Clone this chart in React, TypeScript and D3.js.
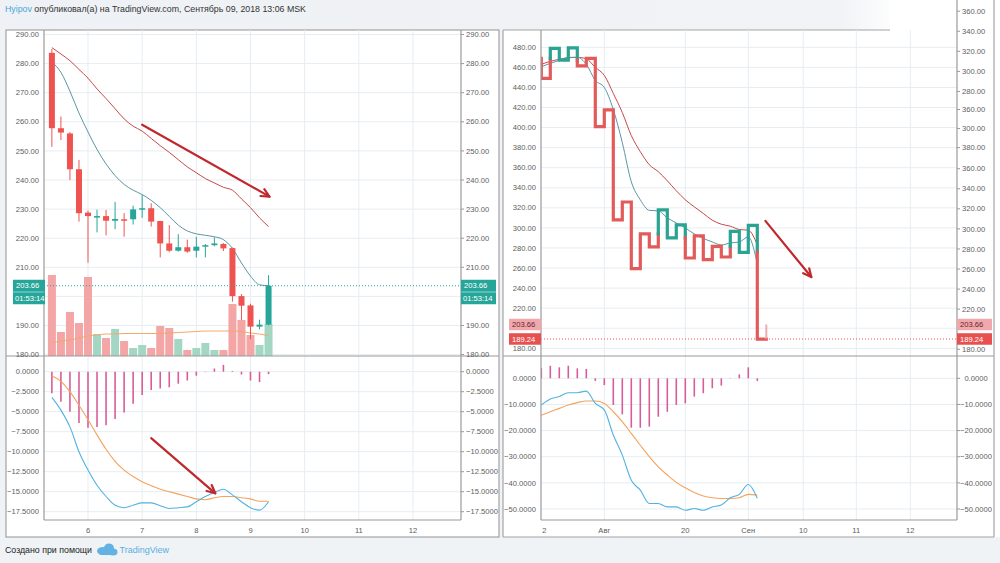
import * as d3 from 'd3';

// ---------- left chart: 4h candles, 5–9 Sept ----------
const candleStartDay = 5 + 8 / 24; // Sept 5, 08:00
const candleStep = 4 / 24;
const candleOpen = [283.7, 257.8, 256.0, 243.7, 228.8, 227.4, 227.6, 226.0, 226.5, 226.5, 229.8, 230.3, 225.9, 218.2, 215.7, 216.9, 215.7, 217.1, 217.6, 218.0, 216.6, 200.1, 196.9, 189.6, 190.3];
const candleClose = [257.8, 256.3, 243.7, 228.6, 227.6, 227.6, 226.0, 226.6, 226.2, 229.9, 230.3, 225.7, 218.2, 215.7, 216.9, 215.4, 217.1, 217.6, 218.2, 216.5, 200.1, 196.8, 189.6, 190.3, 203.66];
const candleHigh = [285.0, 261.8, 256.5, 246.9, 229.5, 229.8, 229.7, 232.5, 228.6, 231.2, 234.8, 232.0, 226.0, 224.5, 221.4, 219.5, 220.5, 218.0, 220.3, 218.3, 216.8, 200.8, 197.5, 192.0, 207.3];
const candleLow = [251.4, 253.7, 240.0, 225.7, 211.6, 222.0, 221.0, 223.1, 220.5, 224.7, 227.0, 224.0, 213.4, 215.2, 215.4, 215.0, 213.4, 213.4, 217.2, 215.6, 198.2, 191.9, 185.3, 188.7, 190.0];
const volume = [81, 24, 44, 33, 79, 22, 18, 27, 15, 8, 11, 8, 30, 28, 17, 6, 8, 13, 6, 6, 52, 36, 21, 11, 32];
const volumeMa = [13, 15, 16, 18, 20, 21, 22, 22, 22.5, 22.5, 22.5, 22.5, 22.5, 23, 23.5, 24, 24.5, 25, 25, 25, 25, 24.5, 23, 22, 20.5];
const maSlow = [285.5, 283.3, 281, 278, 275, 271.3, 268, 264.5, 261, 258.5, 256.8, 254.3, 251.8, 249.5, 247, 244.5, 242.5, 240.5, 239, 237.5, 236.5, 233.5, 230.5, 227, 224];
const maFast = [280.5, 277, 270.5, 263, 256.5, 250.5, 245.5, 241.5, 238.5, 236.5, 235, 233, 230.5, 227.5, 224.5, 222.5, 221.5, 221, 220.5, 219.5, 216.5, 211.5, 207, 204, 203.66];
const macdHist = [-2.7, -3.75, -5.0, -6.4, -7.0, -6.9, -6.7, -5.9, -5.1, -4.0, -2.9, -2.3, -2.1, -1.95, -1.5, -1.1, -0.5, -0.05, 0.4, 0.85, 0.1, -0.35, -1.1, -1.3, -0.3];
const macdLine = [-3.2, -4.8, -6.9, -10.0, -12.3, -14.2, -15.6, -16.7, -17.0, -16.7, -16.4, -16.4, -16.75, -17.1, -17.0, -16.9, -16.25, -15.6, -15.1, -14.7, -15.4, -16.25, -17.0, -17.3, -16.25];
const macdSignal = [-0.5, -1.2, -2.5, -4.2, -6.0, -7.9, -9.7, -11.2, -12.3, -13.1, -13.75, -14.25, -14.7, -15.0, -15.3, -15.6, -15.9, -16.0, -15.75, -15.6, -15.6, -15.75, -15.9, -16.2, -16.2];
const lastPrice = 203.66;
const countdown = '01:53:14';
const dayTicks = [6, 7, 8, 9, 10, 11, 12];
const priceTicksL = [180, 190, 200, 210, 220, 230, 240, 250, 260, 270, 280, 290];
const priceLabelsL = [180, 190, 210, 220, 230, 240, 250, 260, 270, 280, 290];
const macdTicksL = [0, -2.5, -5, -7.5, -10, -12.5, -15, -17.5];
// hand-drawn arrows, in (candle index, value)
const arrowPriceL = [[10, 259], [24.1, 234.3]];
const arrowMacdL = [[11, -8.3], [18.1, -15.2]];

// ---------- right chart: kagi ----------
const kagiTurns = [469, 449, 479, 467.3, 479.5, 461.4, 469, 401, 417.6, 308, 325.8, 259.4, 294, 281, 318, 290, 303, 270, 292, 268.4, 281.6, 271, 296.5, 275.6, 302.5, 189.24];
const kagiLive = 203.66;
const kagiMaFast = [460.7, 464, 467, 470, 470, 463, 447, 440, 418, 385, 346, 328, 317.5, 317, 310, 305, 300, 294, 289.5, 286, 283, 285, 286, 291, 264];
const kagiMaSlow = [463, 466, 468, 469.5, 470, 468.5, 460, 452, 434, 415, 392, 376, 363, 356, 347, 337, 328, 321, 314.4, 307.7, 303.7, 301.7, 298.4, 297.7, 283];
const rMacdHist = [3.8, 4.8, 4.2, 4.8, 3.8, 3.6, -1.0, -2.6, -10.2, -13.8, -18.9, -18.9, -18.5, -14.7, -12.8, -10.2, -9.6, -7.0, -5.7, -3.8, -2.8, 0.1, 1.5, 4.2, -1.0];
const rMacdLine = [-10.2, -7.9, -7.0, -5.5, -5.5, -4.9, -9.6, -12.1, -21.7, -29.4, -39.0, -42.8, -47.9, -47.9, -49.2, -49.2, -50.5, -49.8, -50.5, -49.2, -48.5, -45.7, -44.4, -40.6, -45.9];
const rMacdSignal = [-14.1, -12.8, -11.5, -10.2, -9.3, -8.7, -8.7, -9.6, -12.8, -16.6, -21.1, -25.6, -30.0, -33.9, -37.0, -39.8, -41.9, -43.7, -45.0, -45.7, -46.0, -46.0, -45.7, -44.4, -44.7];
const rDateTickPos = [0.33, 7, 16, 23, 29.1, 35, 41];
const rDateTickLabels = ['2', 'Авг', '20', 'Сен', '10', '11', '12'];
const priceTicksR = [180, 200, 220, 240, 260, 280, 300, 320, 340, 360, 380, 400, 420, 440, 460, 480];
const priceLabelsR = [180, 220, 240, 260, 280, 300, 320, 340, 360, 380, 400, 420, 440, 460, 480];
// pasted right-hand scale of the screenshot (labels do not follow the left one)
const outerTickPos = [516, 496, 476, 456, 436, 418, 399, 380, 359, 339, 319, 299, 279, 259, 239, 219, 179];
const outerTickLabels = ['360.00', '340.00', '320.00', '300.00', '280.00', '360.00', '300.00', '380.00', '360.00', '340.00', '320.00', '300.00', '280.00', '260.00', '240.00', '220.00', '180.00'];
const macdTicksR = [0, -10, -20, -30, -40, -50];
const arrowR = [[24.9, 307], [30, 251]];

const UP = '#26a69a';
const DOWN = '#ef5350';
const GRID = '#e6edf2';
const AXIS = '#9a9a9a';
const TXT = '#5d5d5d';
const FONT = 'Liberation Sans, Arial, sans-serif';

function Arrow({ x0, y0, x1, y1 }: { x0: number; y0: number; x1: number; y1: number }) {
  const a = Math.atan2(y1 - y0, x1 - x0);
  const h = 9;
  const p1 = [x1 - h * Math.cos(a - 0.45), y1 - h * Math.sin(a - 0.45)];
  const p2 = [x1 - h * Math.cos(a + 0.45), y1 - h * Math.sin(a + 0.45)];
  return (
    <g stroke="#c0282d" strokeWidth={2.2} fill="none" strokeLinecap="round" strokeLinejoin="round">
      <line x1={x0} y1={y0} x2={x1} y2={y1} />
      <polyline points={`${p1[0]},${p1[1]} ${x1},${y1} ${p2[0]},${p2[1]}`} />
    </g>
  );
}

function kagiRuns(turns: number[]) {
  const runs: { color: string; pts: [number, number][] }[] = [];
  let color = turns[1] < turns[0] ? DOWN : UP;
  let hi = turns[0];
  let lo = -Infinity;
  let cur = { color, pts: [[0, turns[0]]] as [number, number][] };
  const push = (c: string, x: number, v: number) => {
    if (c !== cur.color) {
      const last = cur.pts[cur.pts.length - 1];
      runs.push(cur);
      cur = { color: c, pts: [last] };
    }
    cur.pts.push([x, v]);
  };
  for (let i = 0; i < turns.length - 1; i++) {
    const a = turns[i];
    const b = turns[i + 1];
    if (b > a) {
      lo = a;
      if (color === DOWN && b > hi) {
        push(DOWN, i, hi);
        color = UP;
      }
      push(color, i, b);
      hi = b;
    } else {
      hi = a;
      if (color === UP && b < lo) {
        push(UP, i, lo);
        color = DOWN;
      }
      push(color, i, b);
      lo = b;
    }
    push(color, i + 1, b);
  }
  runs.push(cur);
  return runs;
}

export default function App() {
  // layout
  const L = { x0: 6, x1: 499, plotL: 44, plotR: 461 };
  const R = { x0: 503, x1: 994, plotL: 541, plotR: 957 };
  const top = 30;
  const sep = 356;
  const plotB = 520;
  const bottom = 537;

  // scales
  const xL = d3.scaleLinear().domain([6, 12]).range([88, 413]);
  const cx = (i: number) => xL(candleStartDay + i * candleStep);
  const yP = d3.scaleLinear().domain([180, 290]).range([354.6, 34.5]);
  const yV = d3.scaleLinear().domain([0, 100]).range([sep, sep - 100]);
  const yM = d3.scaleLinear().domain([0, -17.5]).range([371.7, 511.7]);

  const xR = d3.scaleLinear().domain([0, 24]).range([541.3, 757.3]);
  const yPR = d3.scaleLinear().domain([180, 480]).range([348.3, 47.3]);
  const yMR = d3.scaleLinear().domain([0, -50]).range([378.3, 509]);

  const idx = d3.range(candleOpen.length);
  const lineL = (vals: number[], y: d3.ScaleLinear<number, number>) =>
    d3.line<number>().x((_, i) => cx(i)).y((v) => y(v)).curve(d3.curveMonotoneX)(vals) || '';
  const lineR = (vals: number[], y: d3.ScaleLinear<number, number>) =>
    d3.line<number>().x((_, i) => xR(i)).y((v) => y(v)).curve(d3.curveMonotoneX)(vals) || '';
  const kagiLine = d3.line<[number, number]>().x((p) => xR(p[0])).y((p) => yPR(p[1]));
  const runs = kagiRuns(kagiTurns);
  const lastCol = kagiTurns.length - 1;

  const fmt2 = d3.format('.2f');
  const fmt4 = d3.format('.4f');

  return (
    <div style={{ position: 'absolute', left: 0, top: 0 }}>
      <svg width={1000} height={563} style={{ display: 'block', fontFamily: FONT }}>
        <defs>
          <linearGradient id="hdr" x1="0" x2="1" y1="0" y2="0">
            <stop offset="0%" stopColor="#eef1f5" />
            <stop offset="84%" stopColor="#f1f3f6" />
            <stop offset="90%" stopColor="#ffffff" />
          </linearGradient>
          <clipPath id="clipL">
            <rect x={L.plotL} y={top} width={L.plotR - L.plotL} height={plotB - top} />
          </clipPath>
          <clipPath id="clipR">
            <rect x={R.plotL} y={top} width={R.plotR - R.plotL} height={plotB - top} />
          </clipPath>
        </defs>

        {/* page background */}
        <rect x={0} y={0} width={1000} height={563} fill="#f0f3f6" />
        <rect x={0} y={0} width={1000} height={top} fill="url(#hdr)" />
        <rect x={890} y={0} width={110} height={bottom} fill="#ffffff" />

        {/* header */}
        <text x={5} y={12} fontSize={8.8} fill="#333">
          <tspan fill="#49a6d6">Hyipov</tspan> опубликовал(а) на TradingView.com, Сентябрь 09, 2018 13:06 MSK
        </text>

        {/* panels */}
        <rect x={L.x0} y={top} width={L.x1 - L.x0} height={bottom - top} fill="#fff" stroke="#a3a3a3" strokeWidth={1.2} />
        <rect x={R.x0} y={top} width={R.x1 - R.x0} height={bottom - top} fill="#fff" />
        <line x1={R.x0} x2={R.x0} y1={top} y2={bottom} stroke="#a3a3a3" strokeWidth={1.2} />
        <line x1={R.x0} x2={R.x1} y1={bottom} y2={bottom} stroke="#a3a3a3" strokeWidth={1.2} />
        <line x1={R.x0} x2={890} y1={top} y2={top} stroke="#a3a3a3" strokeWidth={1.2} />
        <line x1={R.x1} x2={R.x1} y1={0} y2={bottom} stroke="#a3a3a3" strokeWidth={1.2} />

        {/* ===== left grid ===== */}
        <g stroke={GRID} strokeWidth={1}>
          {priceTicksL.map((t) => (
            <line key={'pl' + t} x1={L.plotL} x2={L.plotR} y1={yP(t)} y2={yP(t)} />
          ))}
          {macdTicksL.map((t) => (
            <line key={'ml' + t} x1={L.plotL} x2={L.plotR} y1={yM(t)} y2={yM(t)} />
          ))}
          {dayTicks.map((d) => (
            <line key={'dl' + d} x1={xL(d)} x2={xL(d)} y1={top} y2={plotB} />
          ))}
        </g>

        {/* ===== right grid ===== */}
        <g stroke={GRID} strokeWidth={1}>
          {priceTicksR.map((t) => (
            <line key={'pr' + t} x1={R.plotL} x2={R.plotR} y1={yPR(t)} y2={yPR(t)} />
          ))}
          {macdTicksR.map((t) => (
            <line key={'mr' + t} x1={R.plotL} x2={R.plotR} y1={yMR(t)} y2={yMR(t)} />
          ))}
          {rDateTickPos.slice(1).map((d) => (
            <line key={'dr' + d} x1={xR(d)} x2={xR(d)} y1={top} y2={plotB} />
          ))}
        </g>

        {/* ===== left price pane ===== */}
        <g clipPath="url(#clipL)">
          {/* volume */}
          {idx.map((i) => (
            <rect
              key={'v' + i}
              x={cx(i) - 4}
              y={yV(volume[i])}
              width={8}
              height={yV(0) - yV(volume[i])}
              fill={candleClose[i] >= candleOpen[i] ? '#a3d7c4' : '#f4a5a5'}
            />
          ))}
          <path d={lineL(volumeMa, yV)} fill="none" stroke="#f2a86a" strokeWidth={1} />

          {/* moving averages */}
          <path d={lineL(maSlow, yP)} fill="none" stroke="#c9484a" strokeWidth={1} />
          <path d={lineL(maFast, yP)} fill="none" stroke="#5b95a4" strokeWidth={1} />

          {/* candles */}
          {idx.map((i) => {
            const up = candleClose[i] >= candleOpen[i];
            const c = up ? UP : DOWN;
            const yt = yP(Math.max(candleOpen[i], candleClose[i]));
            const yb = yP(Math.min(candleOpen[i], candleClose[i]));
            return (
              <g key={'c' + i}>
                <line x1={cx(i)} x2={cx(i)} y1={yP(candleHigh[i])} y2={yP(candleLow[i])} stroke={c} strokeWidth={1} />
                <rect x={cx(i) - 3} y={yt} width={6} height={Math.max(1.5, yb - yt)} fill={c} />
              </g>
            );
          })}

          {/* last price line */}
          <line x1={L.plotL} x2={L.plotR} y1={yP(lastPrice)} y2={yP(lastPrice)} stroke={UP} strokeWidth={1} strokeDasharray="1,2" />

          {/* macd */}
          {idx.map((i) => (
            <line key={'h' + i} x1={cx(i)} x2={cx(i)} y1={yM(0)} y2={yM(macdHist[i])} stroke="#d95c9a" strokeWidth={1.6} />
          ))}
          <path d={lineL(macdSignal, yM)} fill="none" stroke="#f4a35c" strokeWidth={1.1} />
          <path d={lineL(macdLine, yM)} fill="none" stroke="#52b2e2" strokeWidth={1.1} />
        </g>

        {/* ===== right price pane ===== */}
        <g clipPath="url(#clipR)">
          <path d={lineR(kagiMaSlow, yPR)} fill="none" stroke="#c9484a" strokeWidth={1} />
          <path d={lineR(kagiMaFast, yPR)} fill="none" stroke="#5b95a4" strokeWidth={1} />
          {runs.map((r, i) => (
            <path
              key={'k' + i}
              d={kagiLine(r.pts) || ''}
              fill="none"
              stroke={r.color === UP ? '#2aa392' : '#e35a5a'}
              strokeWidth={3.2}
              strokeLinejoin="miter"
              strokeLinecap="square"
            />
          ))}
          <line
            x1={xR(lastCol)}
            x2={xR(lastCol)}
            y1={yPR(kagiTurns[lastCol])}
            y2={yPR(kagiLive)}
            stroke="#f2aab0"
            strokeWidth={2}
          />
          <line
            x1={R.plotL}
            x2={R.plotR}
            y1={yPR(kagiTurns[lastCol])}
            y2={yPR(kagiTurns[lastCol])}
            stroke={DOWN}
            strokeWidth={1}
            strokeDasharray="1,2"
          />

          {idx.map((i) => (
            <line key={'rh' + i} x1={xR(i)} x2={xR(i)} y1={yMR(0)} y2={yMR(rMacdHist[i])} stroke="#d95c9a" strokeWidth={1.6} />
          ))}
          <path d={lineR(rMacdSignal, yMR)} fill="none" stroke="#f4a35c" strokeWidth={1.1} />
          <path d={lineR(rMacdLine, yMR)} fill="none" stroke="#52b2e2" strokeWidth={1.1} />
        </g>

        {/* arrows */}
        <Arrow x0={cx(arrowPriceL[0][0])} y0={yP(arrowPriceL[0][1])} x1={cx(arrowPriceL[1][0])} y1={yP(arrowPriceL[1][1])} />
        <Arrow x0={cx(arrowMacdL[0][0])} y0={yM(arrowMacdL[0][1])} x1={cx(arrowMacdL[1][0])} y1={yM(arrowMacdL[1][1])} />
        <Arrow x0={xR(arrowR[0][0])} y0={yPR(arrowR[0][1])} x1={xR(arrowR[1][0])} y1={yPR(arrowR[1][1])} />

        {/* ===== axes frame ===== */}
        <g stroke={AXIS} strokeWidth={1.2}>
          <line x1={L.plotL} x2={L.plotL} y1={top} y2={plotB} />
          <line x1={L.plotR} x2={L.plotR} y1={top} y2={plotB} />
          <line x1={L.x0} x2={L.x1} y1={sep} y2={sep} />
          <line x1={L.plotL} x2={L.plotR} y1={plotB} y2={plotB} />
          <line x1={R.plotL} x2={R.plotL} y1={top} y2={plotB} />
          <line x1={R.plotR} x2={R.plotR} y1={0} y2={plotB} />
          <line x1={R.x0} x2={R.x1} y1={sep} y2={sep} />
          <line x1={R.plotL} x2={R.plotR} y1={plotB} y2={plotB} />
        </g>

        {/* ===== left axis labels ===== */}
        <g fontSize={7.6} fill={TXT}>
          {priceLabelsL.map((t) => (
            <g key={'lt' + t}>
              <text x={39} y={yP(t)} dy="0.35em" textAnchor="end">{fmt2(t)}</text>
              <line x1={L.plotR} x2={L.plotR + 3} y1={yP(t)} y2={yP(t)} stroke={AXIS} />
              <text x={L.plotR + 5} y={yP(t)} dy="0.35em">{fmt2(t)}</text>
            </g>
          ))}
          {macdTicksL.map((t) => (
            <g key={'lm' + t}>
              <text x={39} y={yM(t)} dy="0.35em" textAnchor="end">{fmt4(t)}</text>
              <line x1={L.plotR} x2={L.plotR + 3} y1={yM(t)} y2={yM(t)} stroke={AXIS} />
              <text x={L.plotR + 5} y={yM(t)} dy="0.35em">{fmt4(t)}</text>
            </g>
          ))}
          {dayTicks.map((d) => (
            <text key={'ld' + d} x={xL(d)} y={533} textAnchor="middle">{d}</text>
          ))}
        </g>

        {/* ===== right axis labels ===== */}
        <g fontSize={7.6} fill={TXT}>
          {priceLabelsR.map((t) => (
            <text key={'rt' + t} x={536} y={yPR(t)} dy="0.35em" textAnchor="end">{fmt2(t)}</text>
          ))}
          {outerTickPos.map((t, i) => (
            <g key={'ro' + i}>
              <line x1={R.plotR} x2={R.plotR + 3} y1={yPR(t)} y2={yPR(t)} stroke={AXIS} />
              <text x={R.plotR + 5} y={yPR(t)} dy="0.35em">{outerTickLabels[i]}</text>
            </g>
          ))}
          {macdTicksR.map((t) => (
            <g key={'rm' + t}>
              <text x={536} y={yMR(t)} dy="0.35em" textAnchor="end">{fmt4(t)}</text>
              <line x1={R.plotR} x2={R.plotR + 3} y1={yMR(t)} y2={yMR(t)} stroke={AXIS} />
              <text x={976} y={yMR(t)} dy="0.35em" textAnchor="middle">{fmt4(t)}</text>
            </g>
          ))}
          {rDateTickPos.map((d, i) => (
            <text key={'rd' + i} x={xR(d)} y={533} textAnchor="middle">{rDateTickLabels[i]}</text>
          ))}
        </g>

        {/* ===== price labels ===== */}
        <g fontSize={7.6}>
          {[13, L.plotR].map((x, k) => (
            <g key={'lb' + k}>
              <rect x={x} y={yP(lastPrice) - 6} width={k ? 35 : 32} height={12} fill={UP} />
              <text x={x + 3} y={yP(lastPrice)} dy="0.35em" fill="#fff">{fmt2(lastPrice)}</text>
              <rect x={x} y={yP(lastPrice) + 6.5} width={k ? 35 : 32} height={12} fill={UP} />
              <text x={x + 2} y={yP(lastPrice) + 12.5} dy="0.35em" fill="#fff">{countdown}</text>
            </g>
          ))}
          {[509, R.plotR].map((x, k) => (
            <g key={'rb' + k}>
              <rect x={x} y={yPR(kagiLive) - 5.8} width={k ? 35 : 32} height={11.5} fill="#f2a7ad" />
              <text x={x + 3} y={yPR(kagiLive)} dy="0.35em" fill="#5a2a2a">{fmt2(kagiLive)}</text>
              <rect x={x} y={yPR(kagiTurns[lastCol]) - 5.8} width={k ? 35 : 32} height={11.5} fill="#e85050" />
              <text x={x + 3} y={yPR(kagiTurns[lastCol])} dy="0.35em" fill="#fff">{fmt2(kagiTurns[lastCol])}</text>
            </g>
          ))}
        </g>

        {/* footer */}
        <text x={5} y={553} fontSize={8.8} fill="#222">Создано при помощи</text>
        <g fill="#62b3e3">
          <ellipse cx={103} cy={551} rx={6} ry={4} />
          <ellipse cx={109} cy={548} rx={5} ry={4.5} />
          <ellipse cx={113} cy={552} rx={4.5} ry={3.5} />
          <rect x={99} y={551} width={17} height={4} rx={2} />
        </g>
        <text x={119.5} y={553} fontSize={9} fill="#5aaede">TradingView</text>
      </svg>
    </div>
  );
}
